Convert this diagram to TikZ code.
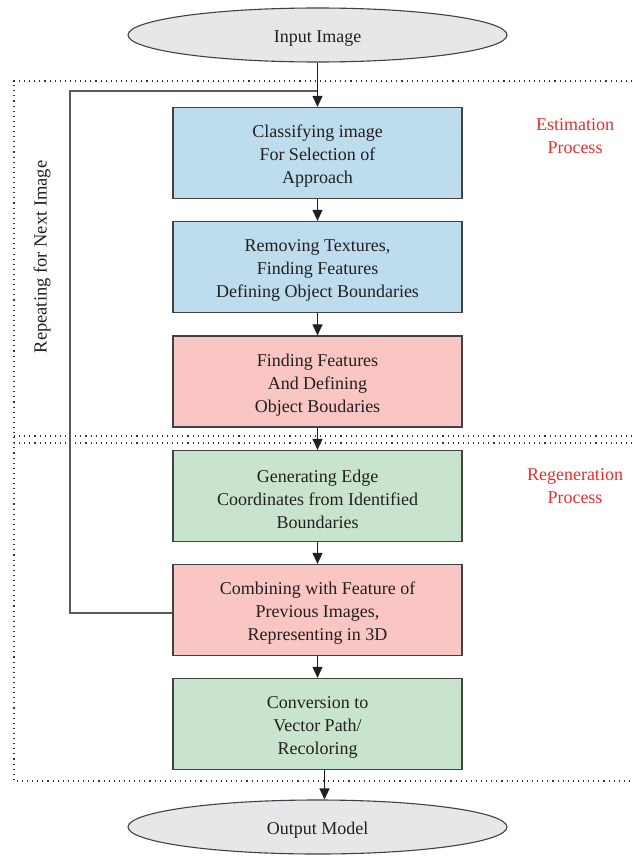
\documentclass[tikz,border=0pt]{standalone}
\usepackage{fontspec}
\setmainfont{Liberation Serif}
\usetikzlibrary{arrows.meta,shapes.geometric}
\definecolor{bluef}{RGB}{189,221,239}
\definecolor{pinkf}{RGB}{250,198,196}
\definecolor{greenf}{RGB}{201,228,205}
\definecolor{grayf}{RGB}{230,231,232}
\definecolor{txt}{RGB}{35,31,32}
\definecolor{redt}{RGB}{235,45,45}
\begin{document}
\begin{tikzpicture}[x=1pt,y=-1pt,
  font=\fontsize{18}{23}\selectfont, text=txt,
  stepbox/.style={draw=txt!85, line width=1.2pt, minimum width=289pt, minimum height=91pt, inner sep=0pt, align=center, execute at begin node={\rule{0pt}{65pt}}},
  term/.style={ellipse, draw=txt!85, line width=1.1pt, fill=grayf, minimum width=379pt, minimum height=54pt, inner sep=0pt, execute at begin node={\rule{0pt}{19pt}}},
  arr/.style={draw=txt, line width=1.1pt, -{Triangle[width=10pt,length=11pt]}},
  fb/.style={draw=black!65, line width=1.6pt},
  dots/.style={draw=black!80, line width=1.1pt, dash pattern=on 1.1pt off 4pt},
  lab/.style={text=redt, align=center}]
\useasboundingbox (0,0) rectangle (632,856);
% dotted frames
\draw[dots] (632,81) -- (14,81) -- (14,781) -- (632,781);
\draw[dots] (14,436) -- (632,436);
\draw[dots] (14,443) -- (632,443);
% terminals
\node[term] (in) at (317.5,35) {Input Image};
\node[term] (out) at (317.5,827) {Output Model};
% boxes
\node[stepbox, fill=bluef] (b1) at (317.5,153) {Classifying image\\For Selection of\\Approach};
\node[stepbox, fill=bluef] (b2) at (317.5,267) {Removing Textures,\\Finding Features\\Defining Object Boundaries};
\node[stepbox, fill=pinkf] (b3) at (317.5,381.5) {Finding Features\\And Defining\\Object Boudaries};
\node[stepbox, fill=greenf] (b4) at (317.5,496) {Generating Edge\\Coordinates from Identified\\Boundaries};
\node[stepbox, fill=pinkf] (b5) at (317.5,610) {Combining with Feature of\\Previous Images,\\Representing in 3D};
\node[stepbox, fill=greenf] (b6) at (317.5,724) {Conversion to\\Vector Path/\\Recoloring};
% feedback
\coordinate (fbtop) at (317.5,91);
\coordinate (fbleft) at (70,91);
\draw[fb] ([yshift=-3pt]b5.west) -| (fbleft) -- (fbtop);
% arrows
\draw[arr] (in) -- (b1);
\draw[arr] (b1) -- (b2);
\draw[arr] (b2) -- (b3);
\draw[arr] (b3) -- (b4);
\draw[arr] (b4) -- (b5);
\draw[arr] (b5) -- (b6);
\draw[arr] ([xshift=7pt]b6.south) -- ([xshift=7pt]b6.south |- out.north);
% labels
\node[lab] (est) at (575,136) {Estimation\\Process};
\node[lab] (reg) at (575,486) {Regeneration\\Process};
\node[rotate=90, font=\fontsize{18.5}{23}\selectfont] (rep) at (42,257) {Repeating for Next Image};
\end{tikzpicture}
\end{document}
